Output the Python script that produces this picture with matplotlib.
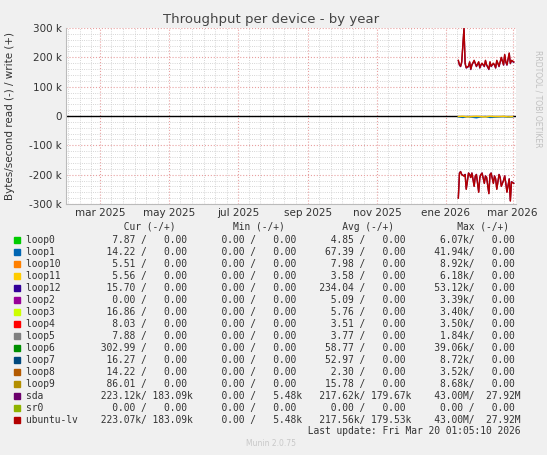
import numpy as np
import matplotlib.pyplot as plt
import matplotlib.dates as mdates
from datetime import date, timedelta

# ubuntu-lv / sda, samples every ~31 h from 2026-01-12
start = date(2026, 1, 12)
write_k = [190, 175, 170, 185, 300, 180, 165, 170, 185, 160, 175, 190, 180, 170, 185, 165,
           175, 180, 170, 190, 175, 160, 185, 170, 180, 175, 165, 190, 170, 185, 200, 175,
           210, 185, 175, 215, 180, 190, 185]
read_k = [-280, -195, -190, -200, -205, -200, -250, -195, -200, -210, -195, -240, -205, -200,
          -260, -210, -200, -195, -230, -205, -210, -265, -200, -195, -230, -205, -215, -250,
          -200, -210, -240, -220, -205, -230, -260, -215, -290, -225, -230]
loop1_read_k = [-3, -5, -2, -4, -6, -3, -2, -5, -4, -3, -2, -4, -3]
loop11_read_k = [-2, -1, -3, -2, -1, -2, -3, -1, -2, -2, -1, -3, -2]

names = ["loop0", "loop1", "loop10", "loop11", "loop12", "loop2", "loop3", "loop4", "loop5",
         "loop6", "loop7", "loop8", "loop9", "sda", "sr0", "ubuntu-lv"]
colors = ["#00cc00", "#0066b3", "#ff8000", "#ffcc00", "#330099", "#990099", "#ccff00", "#ff0000",
          "#808080", "#008f00", "#00487d", "#b35a00", "#b38f00", "#6b006b", "#8fb300", "#b30000"]
cur = [("7.87 ", "0.00 "), ("14.22 ", "0.00 "), ("5.51 ", "0.00 "), ("5.56 ", "0.00 "),
       ("15.70 ", "0.00 "), ("0.00 ", "0.00 "), ("16.86 ", "0.00 "), ("8.03 ", "0.00 "),
       ("7.88 ", "0.00 "), ("302.99 ", "0.00 "), ("16.27 ", "0.00 "), ("14.22 ", "0.00 "),
       ("86.01 ", "0.00 "), ("223.12k", "183.09k"), ("0.00 ", "0.00 "), ("223.07k", "183.09k")]
mins = [("0.00 ", "0.00 ")] * 13 + [("0.00 ", "5.48k"), ("0.00 ", "0.00 "), ("0.00 ", "5.48k")]
avgs = [("4.85 ", "0.00 "), ("67.39 ", "0.00 "), ("7.98 ", "0.00 "), ("3.58 ", "0.00 "),
        ("234.04 ", "0.00 "), ("5.09 ", "0.00 "), ("5.76 ", "0.00 "), ("3.51 ", "0.00 "),
        ("3.77 ", "0.00 "), ("58.77 ", "0.00 "), ("52.97 ", "0.00 "), ("2.30 ", "0.00 "),
        ("15.78 ", "0.00 "), ("217.62k", "179.67k"), ("0.00 ", "0.00 "), ("217.56k", "179.53k")]
maxs = [("6.07k", "0.00 "), ("41.94k", "0.00 "), ("8.92k", "0.00 "), ("6.18k", "0.00 "),
        ("53.12k", "0.00 "), ("3.39k", "0.00 "), ("3.40k", "0.00 "), ("3.50k", "0.00 "),
        ("1.84k", "0.00 "), ("39.06k", "0.00 "), ("8.72k", "0.00 "), ("3.52k", "0.00 "),
        ("8.68k", "0.00 "), ("43.00M", "27.92M"), ("0.00 ", "0.00 "), ("43.00M", "27.92M")]
months_es = ["ene", "feb", "mar", "abr", "may", "jun", "jul", "ago", "sep", "oct", "nov", "dic"]

W, H = 547, 455
fig = plt.figure(figsize=(W / 100, H / 100), dpi=100, facecolor="#f0f0f0")
ax = fig.add_axes([66 / W, 1 - 204 / H, 450 / W, 176 / H], facecolor="white")

days = [start + timedelta(hours=31 * i) for i in range(len(write_k))]
ldays = [start + timedelta(days=4 * i) for i in range(len(loop1_read_k))]
ax.axhline(0, color="black", lw=1, zorder=2)
ax.plot(ldays, np.array(loop1_read_k) * 1000, color="#0066b3", lw=1, zorder=3)
ax.plot(ldays, np.array(loop11_read_k) * 1000, color="#ffcc00", lw=1, zorder=3)
ax.plot(days, np.array(write_k) * 990, color="#6b006b", lw=1, zorder=3)
ax.plot(days, np.array(read_k) * 995, color="#6b006b", lw=1, zorder=3)
ax.plot(days, np.array(write_k) * 1000, color="#b30000", lw=1, zorder=4)
ax.plot(days, np.array(read_k) * 1000, color="#b30000", lw=1, zorder=4)

ax.set_xlim(date(2025, 1, 30), date(2026, 3, 4))
ax.set_ylim(-300000, 300000)
ax.set_yticks(np.arange(-300000, 300001, 100000))
ax.set_yticklabels(["-300 k", "-200 k", "-100 k", "0", "100 k", "200 k", "300 k"])
ax.yaxis.set_minor_locator(plt.MultipleLocator(20000))
ax.xaxis.set_major_locator(mdates.MonthLocator(bymonth=[1, 3, 5, 7, 9, 11]))
ax.xaxis.set_minor_locator(mdates.DayLocator(bymonthday=[1, 11, 21]))
ax.xaxis.set_major_formatter(plt.FuncFormatter(
    lambda v, p: f"{months_es[mdates.num2date(v).month - 1]} {mdates.num2date(v).year}"))
ax.grid(which="major", color="#e8a0a0", ls=":", lw=0.8)
ax.grid(which="minor", color="#c8c8c8", ls=":", lw=0.6)
ax.tick_params(labelsize=7.5, colors="#333333", length=0, pad=3)
ax.tick_params(which="minor", length=0)
for s in ax.spines.values():
    s.set_visible(False)
ax.spines["left"].set_visible(True)
ax.spines["bottom"].set_visible(True)
ax.spines["left"].set_color("#bbbbbb")
ax.spines["bottom"].set_color("#bbbbbb")

fig.text(271 / W, 1 - 19 / H, "Throughput per device - by year", ha="center", va="center",
         fontsize=9.5, color="#444444")
fig.text(10 / W, 1 - 116 / H, "Bytes/second read (-) / write (+)", rotation=90, ha="center",
         va="center", fontsize=7.5, color="#333333")
fig.text(538 / W, 1 - 50 / H, "RRDTOOL / TOBI OETIKER", rotation=270, ha="center", va="top",
         fontsize=5.5, color="#c0c0c0")

mono = dict(family="DejaVu Sans Mono", fontsize=6.97, color="#333333", va="center")
fig.text(25.5 / W, 1 - 227 / H, " " * 17 + "Cur (-/+)" + " " * 10 + "Min (-/+)" + " " * 10
         + "Avg (-/+)" + " " * 11 + "Max (-/+)", **mono)
for i, n in enumerate(names):
    y = 1 - (239.7 + 12 * i) / H
    line = (n.ljust(12) + cur[i][0].rjust(8) + "/" + cur[i][1].rjust(8)
            + mins[i][0].rjust(10) + "/" + mins[i][1].rjust(8)
            + avgs[i][0].rjust(10) + "/" + avgs[i][1].rjust(8)
            + maxs[i][0].rjust(10) + "/" + maxs[i][1].rjust(8))
    fig.text(25.5 / W, y, line, **mono)
    fig.patches.append(plt.Rectangle((14 / W, y - 3.2 / H), 6 / W, 6 / H, color=colors[i],
                                     transform=fig.transFigure, figure=fig))
fig.text(25.5 / W, 1 - 431 / H, "Last update: Fri Mar 20 01:05:10 2026".rjust(86), **mono)
fig.text(271 / W, 1 - 444 / H, "Munin 2.0.75", ha="center", va="center", fontsize=5.5,
         color="#c8c8c8")

fig.savefig("out.png", dpi=100, facecolor=fig.get_facecolor())
